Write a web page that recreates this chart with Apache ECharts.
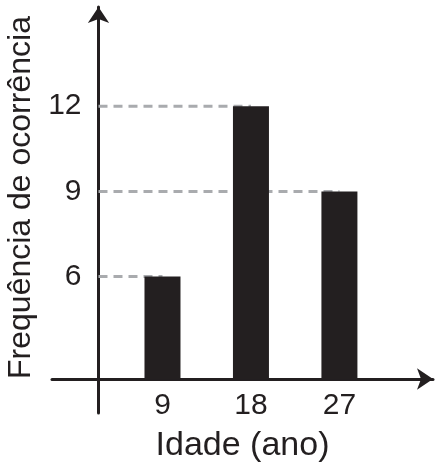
<!DOCTYPE html>
<html>
<head>
<meta charset="utf-8">
<script src="https://cdn.jsdelivr.net/npm/echarts@6/dist/echarts.min.js"></script>
<style>
  html, body { margin: 0; padding: 0; background: #fff; }
  #chart { width: 440px; height: 469px; }
</style>
</head>
<body>
<div id="chart"></div>
<script>
// idade (ano) e frequência
const ages = [9, 18, 27];
const freq = [6, 12, 9];
const yTicks = [6, 9, 12];

// onde os eixos se cruzam e até onde vão
const xRange = [-2.24, 36.52];
const yRange = [1.2, 15.49];
const xCross = 2.49;   // eixo y passa aqui
const yCross = 2.39;   // eixo x passa aqui

const FONT = '"Liberation Sans", Arial, sans-serif';
const INK = '#231f20';

const chart = echarts.init(document.getElementById('chart'));

const dashSeries = freq.map(function (v, i) {
    return {
        type: 'line',
        z: 1,
        silent: true,
        symbol: 'none',
        lineStyle: { color: '#a9abae', width: 3, type: [9, 6] },
        data: [[xCross, v], [ages[i], v]]
    };
});

const option = {
    animation: false,
    grid: { left: 52, right: 7, top: 7, bottom: 56, outerBoundsMode: 'none', containLabel: false },
    xAxis: {
        type: 'value',
        min: xRange[0],
        max: xRange[1],
        offset: -34,
        name: 'Idade (ano)',
        nameLocation: 'middle',
        nameGap: 50,
        nameTextStyle: { fontFamily: FONT, fontSize: 34, color: INK },
        axisLine: {
            show: true,
            lineStyle: { color: INK, width: 3 },
            symbol: ['none', 'arrow'],
            symbolSize: [16, 16]
        },
        axisTick: { show: false },
        splitLine: { show: false },
        axisLabel: {
            customValues: ages,
            margin: 12,
            fontFamily: FONT,
            fontSize: 30,
            color: INK
        }
    },
    yAxis: {
        type: 'value',
        min: yRange[0],
        max: yRange[1],
        startValue: yCross,
        offset: -46.5,
        name: 'Frequência de ocorrência',
        nameLocation: 'middle',
        nameRotate: 90,
        nameGap: 59,
        nameTextStyle: { fontFamily: FONT, fontSize: 32, color: INK, padding: [0, 0, 0, 25] },
        axisLine: {
            show: true,
            lineStyle: { color: INK, width: 3 },
            symbol: ['none', 'arrow'],
            symbolSize: [16, 16]
        },
        axisTick: { show: false },
        splitLine: { show: false },
        axisLabel: {
            customValues: yTicks,
            margin: 17,
            fontFamily: FONT,
            fontSize: 30,
            color: INK
        }
    },
    series: dashSeries.concat([{
        type: 'bar',
        z: 3,
        barWidth: 36,
        itemStyle: { color: INK },
        data: ages.map(function (a, i) { return [a, freq[i]]; })
    }])
};

chart.setOption(option);
</script>
</body>
</html>
